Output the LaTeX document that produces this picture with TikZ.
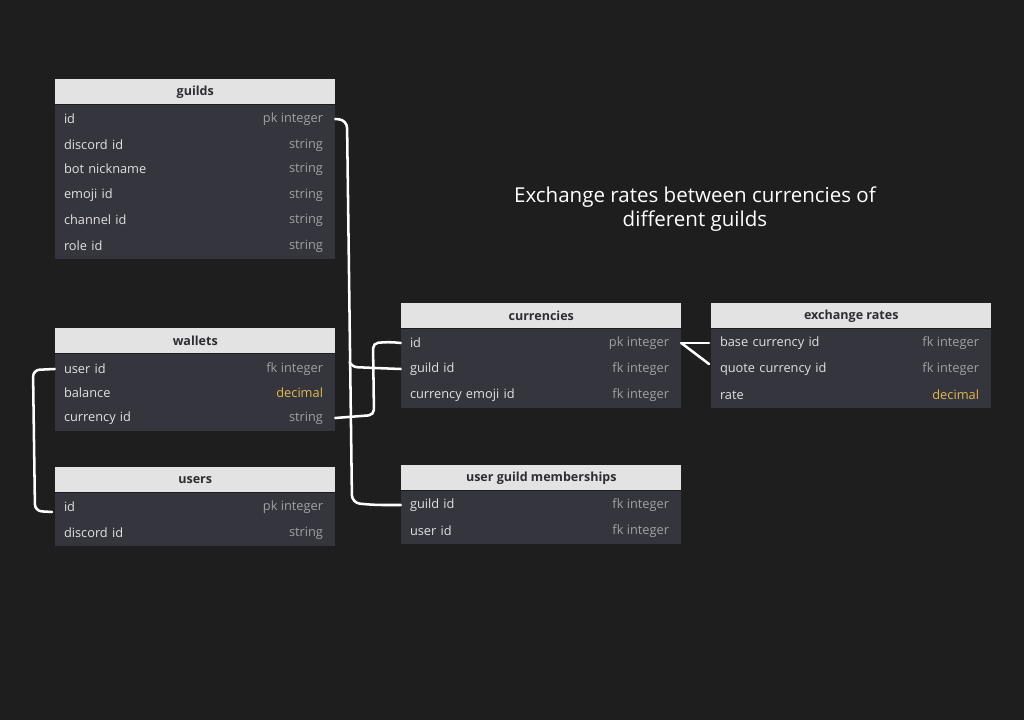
\documentclass[tikz,border=0pt]{standalone}
\usepackage{fontspec}
\setmainfont{Open Sans}
\definecolor{bgc}{RGB}{30,30,30}
\definecolor{hdrbg}{RGB}{227,227,227}
\definecolor{hdrtx}{RGB}{45,45,50}
\definecolor{bodybg}{RGB}{53,53,61}
\definecolor{rowtx}{RGB}{225,225,228}
\definecolor{typtx}{RGB}{160,160,165}
\definecolor{dectx}{RGB}{226,184,78}
\tikzset{
  hdr/.style={fill=hdrbg, text=hdrtx, anchor=north west, minimum width=210pt, minimum height=18.75pt, inner sep=0pt, font=\fontsize{9.4}{11}\selectfont\bfseries},
  tbody/.style={fill=bodybg, anchor=north west, minimum width=210pt, inner sep=0pt},
  row/.style={text=rowtx, text width=196.5pt, inner xsep=6.75pt, inner ysep=0pt, minimum height=16pt, align=left, yshift=-0.75pt, font=\fontsize{9.6}{11}\selectfont},
  typ/.style={text=typtx, anchor=east, inner sep=0pt, font=\fontsize{9.6}{11}\selectfont},
  dec/.style={typ, text=dectx},
  link/.style={draw=white, line width=1.9pt, line cap=round, line join=round},
}
\begin{document}
\begin{tikzpicture}[x=0.75pt,y=-0.75pt]
\fill[bgc] (0,0) rectangle (1024,720);
\useasboundingbox (0,0) rectangle (1024,720);

% guilds
\node[hdr] (gH) at (55,79) {guilds};
\node[tbody, minimum height=115.5pt] (gB) at (gH.south west) {};
\node[row] (g1) at (195,118) {id};
\node[row] (g2) at (195,144) {discord id};
\node[row] (g3) at (195,168) {bot nickname};
\node[row] (g4) at (195,194) {emoji id};
\node[row] (g5) at (195,219) {channel id};
\node[row] (g6) at (195,245) {role id};
\node[typ] (g1t) at ([xshift=-9pt]g1.east) {pk integer};
\node[typ] (g2t) at ([xshift=-9pt]g2.east) {string};
\node[typ] (g3t) at ([xshift=-9pt]g3.east) {string};
\node[typ] (g4t) at ([xshift=-9pt]g4.east) {string};
\node[typ] (g5t) at ([xshift=-9pt]g5.east) {string};
\node[typ] (g6t) at ([xshift=-9pt]g6.east) {string};

% wallets
\node[hdr] (wH) at (55,328) {wallets};
\node[tbody, minimum height=57.75pt] (wB) at (wH.south west) {};
\node[row] (w1) at (195,368) {user id};
\node[row] (w2) at (195,392) {balance};
\node[row] (w3) at (195,417) {currency id};
\node[typ] (w1t) at ([xshift=-9pt]w1.east) {fk integer};
\node[dec] (w2t) at ([xshift=-9pt]w2.east) {decimal};
\node[typ] (w3t) at ([xshift=-9pt]w3.east) {string};

% users
\node[hdr] (uH) at (55,467) {users};
\node[tbody, minimum height=39.75pt] (uB) at (uH.south west) {};
\node[row] (u1) at (195,506) {id};
\node[row] (u2) at (195,532) {discord id};
\node[typ] (u1t) at ([xshift=-9pt]u1.east) {pk integer};
\node[typ] (u2t) at ([xshift=-9pt]u2.east) {string};

% currencies
\node[hdr] (cH) at (401,303) {currencies};
\node[tbody, minimum height=59.25pt] (cB) at (cH.south west) {};
\node[row] (c1) at (541,342) {id};
\node[row] (c2) at (541,368) {guild id};
\node[row] (c3) at (541,394) {currency emoji id};
\node[typ] (c1t) at ([xshift=-9pt]c1.east) {pk integer};
\node[typ] (c2t) at ([xshift=-9pt]c2.east) {fk integer};
\node[typ] (c3t) at ([xshift=-9pt]c3.east) {fk integer};

% exchange rates
\node[hdr] (eH) at (711,303) {exchange rates};
\node[tbody, minimum height=59.25pt] (eB) at (eH.south west) {};
\node[row] (e1) at (851,342) {base currency id};
\node[row] (e2) at (851,368) {quote currency id};
\node[row] (e3) at (851,394) {rate};
\node[typ] (e1t) at ([xshift=-9pt]e1.east) {fk integer};
\node[typ] (e2t) at ([xshift=-9pt]e2.east) {fk integer};
\node[dec] (e3t) at ([xshift=-9pt]e3.east) {decimal};

% user guild memberships
\node[hdr] (mH) at (401,465) {user guild memberships};
\node[tbody, minimum height=39.75pt] (mB) at (mH.south west) {};
\node[row] (m1) at (541,504) {guild id};
\node[row] (m2) at (541,530) {user id};
\node[typ] (m1t) at ([xshift=-9pt]m1.east) {fk integer};
\node[typ] (m2t) at ([xshift=-9pt]m2.east) {fk integer};

% title
\node[text=white, align=center, font=\fontsize{15.4}{18}\selectfont] (title) at (695,209) {Exchange rates between currencies of\\different guilds};

% connectors
\draw[link, rounded corners=6pt] (g1.east) -- (347,120) -- (352,503) -- (375,505) -- (m1.west);
\draw[link, rounded corners=4pt] (350,363) -- (352,367) -- (375,368) -- (c2.west);
\draw[link, rounded corners=4pt] (w3.east) -- (374,415) -- (373,343) -- (390,342) -- (c1.west);
\draw[link, rounded corners=5pt] (w1.west) -- (33,370) -- (35,511) -- (52,512);
\draw[link] (c1.east) -- (709,343);
\draw[link] (c1.east) -- (709,364);
\end{tikzpicture}
\end{document}
